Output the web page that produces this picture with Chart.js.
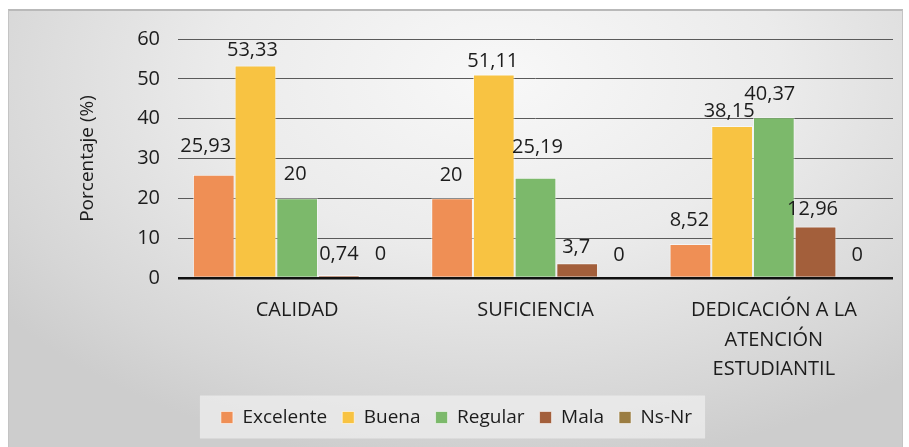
<!DOCTYPE html>
<html>
<head>
<meta charset="utf-8">
<script src="https://cdn.jsdelivr.net/npm/chart.js@4/dist/chart.umd.min.js"></script>
<style>
    html, body { margin: 0; padding: 0; background: #fff; }
    #wrap { position: relative; width: 909px; height: 447px; }
    #frame {
        position: absolute; left: 8px; top: 9px; width: 895px; height: 438px;
        box-sizing: border-box;
        border-top: 2px solid #b9b9b9; border-left: 1px solid #c4c4c4; border-right: 1px solid #c4c4c4;
        background: radial-gradient(ellipse 70% 90% at 55% 15%, #f8f8f8 0%, #ebebeb 45%, #d6d6d6 85%, #cdcdcd 100%);
    }
    canvas { position: absolute; left: 0; top: 0; }
</style>
</head>
<body>
<div id="wrap">
    <div id="frame"></div>
    <canvas id="chart" width="909" height="447"></canvas>
</div>
<script>
document.addEventListener("DOMContentLoaded", () => {

    // Datos
    const categories = ['CALIDAD', 'SUFICIENCIA', ['DEDICACIÓN A LA', 'ATENCIÓN', 'ESTUDIANTIL']];
    const excelente = [25.93, 20, 8.52];
    const buena     = [53.33, 51.11, 38.15];
    const regular   = [20, 25.19, 40.37];
    const mala      = [0.74, 3.7, 12.96];
    const nsNr      = [0, 0, 0];
    const seriesNames = ['Excelente', 'Buena', 'Regular', 'Mala', 'Ns-Nr'];
    const yTicks = [0, 10, 20, 30, 40, 50, 60];

    // Colores base
    const colors = ['#ef8f55', '#f8c342', '#7cb96b', '#a35f3b', '#9b7d42'];
    const textColor = '#1c1c1c';
    const font = "'Open Sans', 'DejaVu Sans', sans-serif";

    // separación de cada etiqueta sobre su barra (px)
    const labelGap = [[28, 23, 24], [15, 13, 15], [24, 30, 23], [21, 16, 17], [24, 23, 23]];
    const labelShift = [[-8, -1, -1], [-3, -1, -3], [-2, 2, -4], [0, -1, -3], [0, 0, 0]];

    const fmt = v => String(v).replace('.', ',');

    const valueLabels = {
        id: 'valueLabels',
        afterDatasetsDraw(chart) {
            const ctx = chart.ctx;
            ctx.save();
            ctx.font = `20px ${font}`;
            ctx.fillStyle = textColor;
            ctx.textAlign = 'center';
            ctx.textBaseline = 'middle';
            chart.data.datasets.forEach((ds, i) => {
                chart.getDatasetMeta(i).data.forEach((bar, j) => {
                    ctx.fillText(fmt(ds.data[j]), bar.x + labelShift[i][j], bar.y - labelGap[i][j]);
                });
            });
            ctx.restore();
        }
    };

    const legendBox = {
        id: 'legendBox',
        beforeDraw(chart) {
            const boxes = chart.legend && chart.legend.legendHitBoxes;
            if (!boxes || !boxes.length) return;
            const left = Math.min(...boxes.map(b => b.left)) - 21;
            const right = Math.max(...boxes.map(b => b.left + b.width)) + 13;
            const mid = boxes[0].top + boxes[0].height / 2;
            const ctx = chart.ctx;
            ctx.save();
            ctx.fillStyle = 'rgba(238,238,238,0.75)';
            ctx.fillRect(left, mid - 22, right - left, 43);
            ctx.restore();
        }
    };

    const datasets = [excelente, buena, regular, mala, nsNr].map((values, i) => ({
        label: seriesNames[i],
        data: values,
        backgroundColor: colors[i],
        borderColor: 'rgba(255,255,255,0.55)',
        borderWidth: 1,
        categoryPercentage: 0.875,
        barPercentage: 1.0,
    }));

    new Chart(document.getElementById('chart'), {
        type: 'bar',
        data: { labels: categories, datasets },
        plugins: [valueLabels, legendBox],
        options: {
            responsive: false,
            animation: false,
            layout: { padding: { top: 39, left: 20, right: 16, bottom: 10 } },
            plugins: {
                legend: {
                    position: 'bottom',
                    labels: {
                        color: textColor,
                        font: { family: font, size: 19 },
                        boxWidth: 12,
                        boxHeight: 12,
                        padding: 15,
                    }
                },
                tooltip: { enabled: false }
            },
            scales: {
                x: {
                    grid: { display: false },
                    border: { display: false },
                    ticks: {
                        color: textColor,
                        font: { family: font, size: 20, lineHeight: 1.47 },
                        padding: 10,
                        maxRotation: 0,
                        autoSkip: false,
                    },
                    afterFit: scale => { scale.height = 115; }
                },
                y: {
                    min: 0,
                    max: 60,
                    afterBuildTicks: scale => { scale.ticks = yTicks.map(v => ({ value: v })); },
                    grid: {
                        color: c => c.tick && c.tick.value === 0 ? '#111' : '#5a5a5a',
                        lineWidth: c => c.tick && c.tick.value === 0 ? 2.5 : 1,
                        drawTicks: false,
                    },
                    border: { display: false },
                    ticks: {
                        color: textColor,
                        font: { family: font, size: 20 },
                        padding: 18,
                    },
                    title: {
                        display: true,
                        text: 'Porcentaje (%)',
                        color: textColor,
                        font: { family: font, size: 19 },
                        padding: { top: 56, bottom: 0 },
                    },
                    afterFit: scale => { scale.width = 158; }
                }
            }
        }
    });
});
</script>
</body>
</html>
